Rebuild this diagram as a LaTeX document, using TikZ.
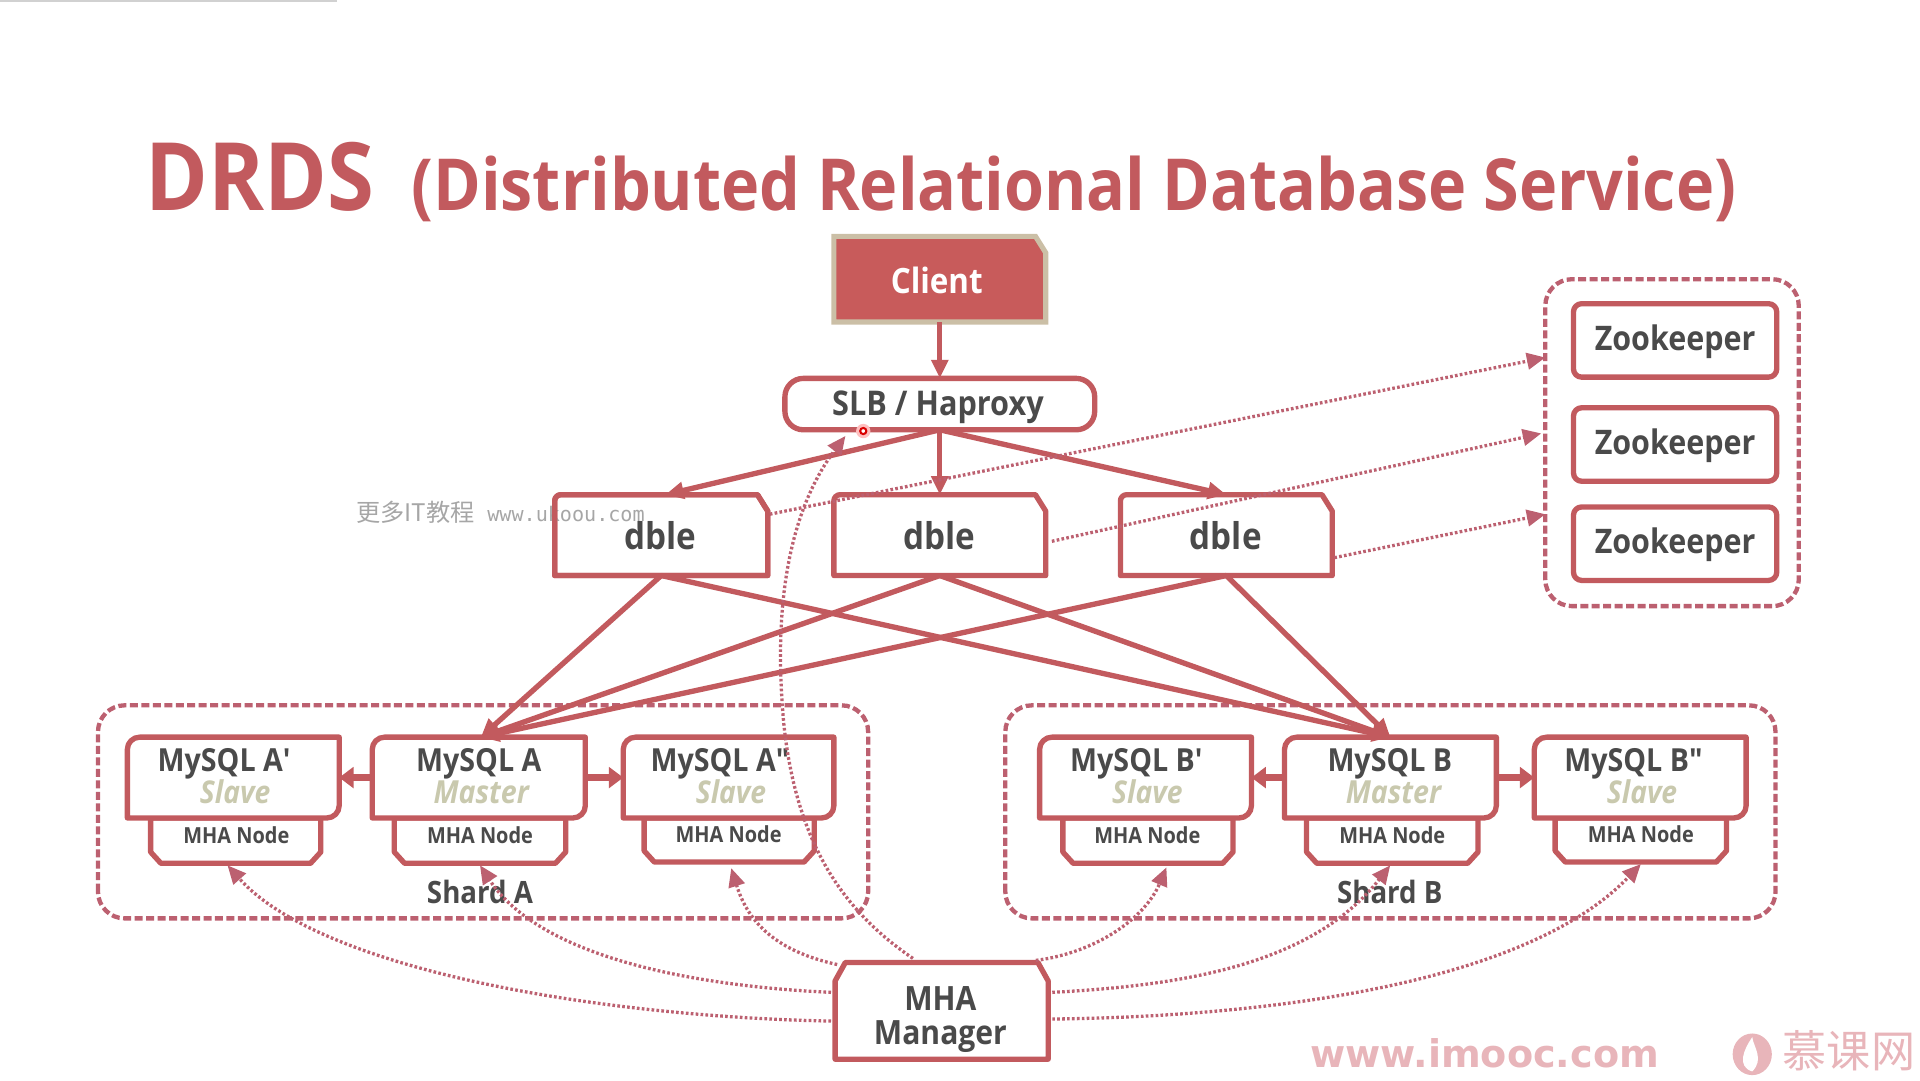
\documentclass[tikz,border=0pt]{standalone}
\usepackage{fontspec}
\setmainfont{Open Sans}[FakeStretch=0.90]
\newfontfamily\cjkf{Noto Sans CJK SC}
\newfontfamily\monof{DejaVu Sans Mono}
\usetikzlibrary{fit,calc,arrows.meta}
\definecolor{brick}{HTML}{C25A5E}
\definecolor{dashc}{HTML}{BC6070}
\definecolor{clientf}{HTML}{C85B5B}
\definecolor{clientb}{HTML}{CBBFA6}
\definecolor{ink}{HTML}{4A4A4A}
\definecolor{sage}{HTML}{C9C9AE}
\definecolor{wm}{HTML}{E8B5BA}
\tikzset{
  area/.style={fit={#1},inner sep=0pt,outer sep=0pt,draw=none,rectangle},
  boxl/.style={draw=brick,line width=2.6pt,fill=white,line join=round},
  groupl/.style={draw=dashc,line width=2.1pt,rounded corners=13pt,dash pattern=on 3.9pt off 1.7pt},
  txt/.style={anchor=base,inner sep=0pt,outer sep=0pt,text=ink,font=\bfseries},
  solid arrow/.style={draw=brick,line width=2.6pt,-{Stealth[length=9pt,width=8pt,inset=0pt]}},
  side arrow/.style={draw=brick,line width=3pt,-{Stealth[length=7pt,width=10pt,inset=0pt]},shorten <=0pt},
  dot arrow/.style={draw=dashc,line width=1.6pt,dash pattern=on 1.3pt off 1.1pt,-{Stealth[length=9pt,width=8pt,inset=0pt]}},
}
\newcommand{\fs}[1]{\fontsize{#1}{#1}\selectfont}
% shapes built on named area nodes
\newcommand{\mysqlshape}[1]{\draw[boxl] (#1.south west) [rounded corners=6pt] -- (#1.north west) [sharp corners] -- (#1.north east) [rounded corners=6pt] -- (#1.south east) [sharp corners] -- cycle;}
\newcommand{\dbleshape}[2][]{\draw[boxl,#1] (#2.south west) [rounded corners=3pt] -- (#2.north west) [sharp corners] -- ([xshift=-5pt]#2.north east) -- ([yshift=-8pt]#2.north east) -- (#2.south east) -- cycle;}
\newcommand{\mhashape}[1]{\draw[boxl] (#1.north west) -- ([yshift=5.5pt]#1.south west) -- ([xshift=5pt]#1.south west) -- ([xshift=-5pt]#1.south east) -- ([yshift=5.5pt]#1.south east) -- (#1.north east) -- cycle;}
\newcommand{\mgrshape}[1]{\draw[boxl] (#1.south west) -- ([yshift=-9pt]#1.north west) -- ([xshift=5pt]#1.north west) -- ([xshift=-5pt]#1.north east) -- ([yshift=-9pt]#1.north east) -- (#1.south east) -- cycle;}
\begin{document}
\begin{tikzpicture}[x=0.597pt,y=-0.597pt]
\useasboundingbox (0,0) rectangle (1568,882);
\fill[black!18] (0,0) rectangle (275,1.6);

% title
\node[txt,anchor=base west,text=brick] (t1) at (119,172) {\fs{46}DRDS};
\node[txt,anchor=base west,text=brick] (t2) at (336,172) {\fs{35}(Distributed Relational Database Service)};

% dashed groups
\node[area={(1262,228)(1469,495)}] (zkg) {};
\node[area={(80,576)(709,750)}] (sa) {};
\node[area={(821,576)(1450,750)}] (sb) {};
\draw[groupl] (zkg.south west) rectangle (zkg.north east);
\draw[groupl] (sa.south west) rectangle (sa.north east);
\draw[groupl] (sb.south west) rectangle (sb.north east);

% client and proxy
\node[area={(681,193)(854,263)}] (client) {};
\draw[fill=clientf,draw=clientb,line width=2.5pt] (client.south west) -- (client.north west) -- ([xshift=-5pt]client.north east) -- ([yshift=-8pt]client.north east) -- (client.south east) -- cycle;
\node[txt,text=white] (clientt) at (765,240) {\fs{17}Client};
\node[area={(641,309)(894,351)}] (slb) {};
\draw[boxl,rounded corners=9pt] (slb.south west) rectangle (slb.north east);
\node[txt] (slbt) at (766,339) {\fs{16.6}SLB / Haproxy};

% dble
\node[area={(453,404)(627,470)}] (d1) {};
\node[area={(681,404)(854,470)}] (d2) {};
\node[area={(915,404)(1088,470)}] (d3) {};
\dbleshape{d1}\dbleshape{d2}\dbleshape{d3}
% overlay text lies on the first dble box, under its outline
\node[txt,anchor=base west,text=black!35,font=\normalfont] (wm0) at (291,426) {\fs{11.8}{\cjkf 更多IT教程}};
\node[txt,anchor=base west,text=black!35,font=\normalfont] (wm1) at (398,426) {\fs{9.8}{\monof www.ukoou.com}};
\dbleshape[fill=none]{d1}
\node[txt] (d1t) at (539,449) {\fs{18}dble};
\node[txt] (d2t) at (767,449) {\fs{18}dble};
\node[txt] (d3t) at (1001,449) {\fs{18}dble};

% zookeeper
\node[area={(1285,248)(1451,308)}] (z1) {};
\node[area={(1285,333)(1451,393)}] (z2) {};
\node[area={(1285,414)(1451,474)}] (z3) {};
\foreach \z in {z1,z2,z3}{\draw[boxl,rounded corners=4pt] (\z.south west) rectangle (\z.north east);}
\node[txt] (z1t) at (1368,286) {\fs{16.5}Zookeeper};
\node[txt] (z2t) at (1368,371) {\fs{16.5}Zookeeper};
\node[txt] (z3t) at (1368,452) {\fs{16.5}Zookeeper};

% MHA nodes
\node[area={(123,668)(262,705)}] (n1) {};
\node[area={(322,668)(462,705)}] (n2) {};
\node[area={(526,668)(665,704)}] (n3) {};
\node[area={(868,668)(1007,705)}] (n4) {};
\node[area={(1067,668)(1207,705)}] (n5) {};
\node[area={(1270,668)(1410,704)}] (n6) {};
\mhashape{n1}\mhashape{n2}\mhashape{n3}\mhashape{n4}\mhashape{n5}\mhashape{n6}
\node[txt] (n1t) at (193,689) {\fs{10.8}MHA Node};
\node[txt] (n2t) at (392,689) {\fs{10.8}MHA Node};
\node[txt] (n3t) at (595,688) {\fs{10.8}MHA Node};
\node[txt] (n4t) at (937,689) {\fs{10.8}MHA Node};
\node[txt] (n5t) at (1137,689) {\fs{10.8}MHA Node};
\node[txt] (n6t) at (1340,688) {\fs{10.8}MHA Node};

% MySQL
\node[area={(104,602)(277,668)}] (ma1) {};
\node[area={(304,602)(478,668)}] (ma) {};
\node[area={(509,602)(681,668)}] (ma2) {};
\node[area={(849,602)(1022,668)}] (mb1) {};
\node[area={(1049,602)(1222,668)}] (mb) {};
\node[area={(1253,602)(1426,668)}] (mb2) {};
\mysqlshape{ma1}\mysqlshape{ma}\mysqlshape{ma2}\mysqlshape{mb1}\mysqlshape{mb}\mysqlshape{mb2}
\node[txt] (ma1t) at (183,630) {\fs{15.5}MySQL A′};
\node[txt,text=sage,font=\bfseries\itshape] (ma1s) at (192,656) {\fs{15.3}Slave};
\node[txt] (mat) at (391,630) {\fs{15.5}MySQL A};
\node[txt,text=sage,font=\bfseries\itshape] (mas) at (393,656) {\fs{15.5}Master};
\node[txt] (ma2t) at (588,630) {\fs{15.5}MySQL A″};
\node[txt,text=sage,font=\bfseries\itshape] (ma2s) at (597,656) {\fs{15.3}Slave};
\node[txt] (mb1t) at (928,630) {\fs{15.5}MySQL B′};
\node[txt,text=sage,font=\bfseries\itshape] (mb1s) at (937,656) {\fs{15.3}Slave};
\node[txt] (mbt) at (1135,630) {\fs{15.5}MySQL B};
\node[txt,text=sage,font=\bfseries\itshape] (mbs) at (1138,656) {\fs{15.5}Master};
\node[txt] (mb2t) at (1334,630) {\fs{15.5}MySQL B″};
\node[txt,text=sage,font=\bfseries\itshape] (mb2s) at (1341,656) {\fs{15.3}Slave};

\node[txt] (sat) at (392,738) {\fs{15}Shard A};
\node[txt] (sbt) at (1135,738) {\fs{15}Shard B};

% manager
\node[area={(682,786)(856,865)}] (mgr) {};
\mgrshape{mgr}
\node[txt] (mgrt1) at (768,825) {\fs{16.3}MHA};
\node[txt] (mgrt2) at (768,853) {\fs{16.3}Manager};

% solid connectors
\draw[solid arrow] (client.south) -- (slb.north);
\draw[solid arrow] (slb.south) -- ([xshift=2pt]d1.north);
\draw[solid arrow] (slb.south) -- (d2.north);
\draw[solid arrow] (slb.south) -- (d3.north);
\foreach \d in {d1,d2,d3}{
  \draw[solid arrow] (\d.south) -- ([xshift=1pt]ma.north);
  \draw[solid arrow] (\d.south) -- (mb.north);
}
\draw[side arrow] (ma.west) -- (ma1.east);
\draw[side arrow] (ma.east) -- (ma2.west);
\draw[side arrow] (mb.west) -- (mb1.east);
\draw[side arrow] (mb.east) -- (mb2.west);

% dotted connectors
\draw[dot arrow] ([xshift=1pt,yshift=-9.5pt]d1.north east) -- ([yshift=-38.2pt]zkg.north west);
\draw[dot arrow] ([xshift=3pt,yshift=-3pt]d2.east) -- ([xshift=-2pt,yshift=-75.2pt]zkg.north west);
\draw[dot arrow] ([xshift=1pt,yshift=-11pt]d3.east) -- ([yshift=-114.6pt]zkg.north west);
\draw[dot arrow] ([yshift=-5pt,xshift=-2pt]mgr.west) .. controls (480,830) and (260,790) .. ([xshift=-4pt,yshift=-1pt]n1.south);
\draw[dot arrow] ([yshift=9pt,xshift=-2pt]mgr.west) .. controls (560,805) and (440,780) .. ([yshift=-1pt]n2.south);
\draw[dot arrow] ([xshift=1pt,yshift=-1pt]mgr.north west) .. controls (630,776) and (610,750) .. ([xshift=1pt,yshift=-3pt]n3.south);
\draw[dot arrow] ([xshift=-14pt,yshift=2pt]mgr.north) .. controls (690,745) and (650,690) .. (640,590) .. controls (630,480) and (650,410) .. ([xshift=-46pt,yshift=-3pt]slb.south);
\draw[dot arrow] ([xshift=-6pt,yshift=1pt]mgr.north east) .. controls (895,778) and (935,750) .. ([xshift=9pt,yshift=-2pt]n4.south);
\draw[dot arrow] ([xshift=2pt,yshift=9pt]mgr.east) .. controls (960,805) and (1070,790) .. ([xshift=-1pt,yshift=-1pt]n5.south);
\draw[dot arrow] ([xshift=2pt,yshift=-4pt]mgr.east) .. controls (1050,830) and (1250,800) .. ([yshift=-1pt]n6.south);

% pointer
\node[circle,fill=red!25,draw=none,minimum size=7pt,inner sep=0pt] (laser) at (705,352) {};
\node[circle,fill=white,draw=red!85!black,line width=1pt,minimum size=3pt,inner sep=0pt] (laserc) at (705,352) {};

% footer watermark
\node[txt,anchor=base west,text=wm,font=\fontspec{DejaVu Sans}\bfseries] (wm2) at (1070,872) {\fs{18.6}www.imooc.com};
\fill[wm] (1431,861) ellipse (16 and 17);
\fill[white] (1431,875) .. controls (1418,871) and (1424,857) .. (1431,847) .. controls (1432,855) and (1441,865) .. (1431,875) -- cycle;
\node[txt,anchor=base west,text=wm,font=\cjkf] (wm3) at (1456,872) {\fs{21.5}慕课网};
\end{tikzpicture}
\end{document}
